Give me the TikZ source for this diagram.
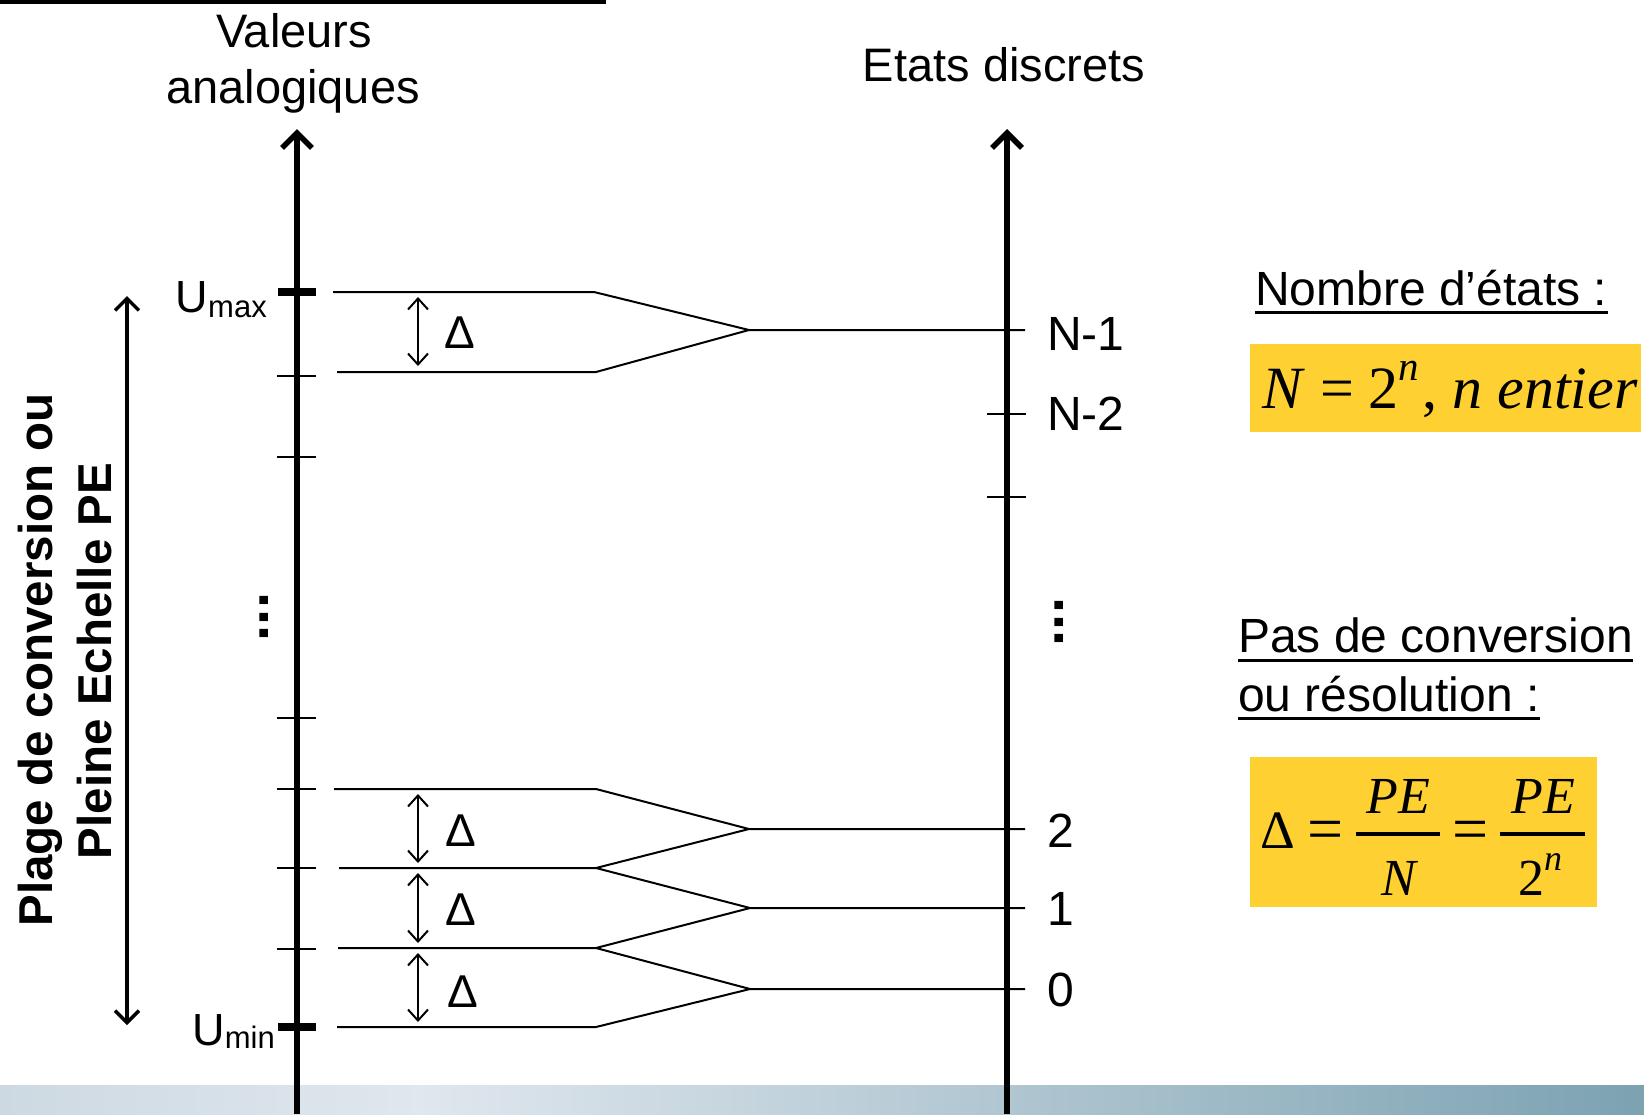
\documentclass[tikz,border=0pt]{standalone}
\usepackage{fontspec}
\setmainfont{Liberation Sans}
\newfontfamily\tms{Liberation Serif}
\usetikzlibrary{arrows.meta}
\definecolor{gold}{RGB}{255,208,50}
\definecolor{bandA}{RGB}{205,217,226}
\definecolor{bandB}{RGB}{224,231,238}
\definecolor{bandC}{RGB}{124,162,178}
\begin{document}
\begin{tikzpicture}[x=1pt,y=-1pt,
  txt/.style={inner sep=0pt, font=\fontsize{47}{56}\selectfont},
  rtxt/.style={inner sep=0pt, font=\fontsize{48}{56}\selectfont},
  fm/.style={inner sep=0pt, font=\tms\fontsize{52}{56}\selectfont},
  feq/.style={inner sep=0pt, font=\tms\fontsize{64}{66}\selectfont},
  axisline/.style={line width=5.5pt, -{Straight Barb[length=15pt,width=30pt]}},
  bigarr/.style={line width=3.5pt, {Straight Barb[length=12pt,width=24pt]}-{Straight Barb[length=12pt,width=24pt]}},
  darr/.style={line width=2pt, {Straight Barb[length=11pt,width=20pt]}-{Straight Barb[length=11pt,width=20pt]}},
  lvl/.style={line width=2pt, line join=round},
  thintick/.style={line width=2pt},
  thicktick/.style={line width=8pt},
  uline/.style={line width=3pt},
  dots/.style={inner sep=0pt, rotate=90, anchor=base, font=\bfseries\fontsize{58}{58}\selectfont}
]
\useasboundingbox (0,0) rectangle (1644,1114);
% top rule
\fill (0,0) rectangle (606,3.5);
% bottom band
\shade[left color=bandA,right color=bandB] (0,1085) rectangle (421,1114);
\shade[left color=bandB,right color=bandC] (420,1085) rectangle (1644,1114);

% axes
\coordinate (La0) at (297,1114); \coordinate (La1) at (297,129);
\coordinate (Ra0) at (1007,1114); \coordinate (Ra1) at (1007,129);
\draw[axisline] (La0) -- (La1);
\draw[axisline] (Ra0) -- (Ra1);

% headers
\node[txt,anchor=base] (val) at (294,47) {Valeurs};
\node[txt,anchor=base] (ana) at (293,103) {analogiques};
\node[txt,anchor=base] (etats) at (1004,81) {Etats discrets};

% left ticks
\foreach \yy in {376,457,718,789,868,949} \draw[thintick] (277,\yy) -- (316,\yy);
\draw[thicktick] (278,292) -- (316,292);
\draw[thicktick] (278,1027) -- (316,1027);
% right ticks
\draw[thintick] (987,414) -- (1026,414);
\draw[thintick] (987,497) -- (1026,497);

% Umax / Umin
\node[inner sep=0pt, anchor=base east, font=\fontsize{45}{50}\selectfont] (umax) at (267,312)
  {U\raisebox{-5pt}{\fontsize{31}{31}\selectfont max}};
\node[inner sep=0pt, anchor=base east, font=\fontsize{45}{50}\selectfont] (umin) at (275,1045)
  {U\raisebox{-3pt}{\fontsize{31}{31}\selectfont min}};

% level lines, upper group
\coordinate (ua) at (333,292); \coordinate (ub) at (594,292);
\coordinate (uc) at (337,372); \coordinate (ud) at (596,372);
\coordinate (ap1) at (749,330); \coordinate (e1) at (1025,330);
\draw[lvl] (ua) -- (ub) -- (ap1) -- (e1);
\draw[lvl] (uc) -- (ud) -- (ap1);

% lower group
\coordinate (l1a) at (334,789); \coordinate (l1b) at (596,789);
\coordinate (l2a) at (339,868); \coordinate (l2b) at (596,868);
\coordinate (l3a) at (338,948); \coordinate (l3b) at (596,948);
\coordinate (l4a) at (337,1027); \coordinate (l4b) at (596,1027);
\coordinate (ap2) at (749,829); \coordinate (e2) at (1025,829);
\coordinate (ap3) at (750,908); \coordinate (e3) at (1025,908);
\coordinate (ap4) at (750,989); \coordinate (e4) at (1025,989);
\draw[lvl] (l1a) -- (l1b) -- (ap2) -- (e2);
\draw[lvl] (l2a) -- (l2b) -- (ap2);
\draw[lvl] (l2b) -- (ap3) -- (e3);
\draw[lvl] (l3a) -- (l3b) -- (ap3);
\draw[lvl] (l3b) -- (ap4) -- (e4);
\draw[lvl] (l4a) -- (l4b) -- (ap4);

% delta arrows
\draw[darr] (418,297) -- (418,366);
\draw[darr] (418,794) -- (418,863);
\draw[darr] (418,873) -- (418,943);
\draw[darr] (418,953) -- (418,1022);
\node[txt,anchor=base,font=\fontsize{46}{50}\selectfont] (d1) at (460,348) {Δ};
\node[txt,anchor=base,font=\fontsize{46}{50}\selectfont] (d2) at (461,846) {Δ};
\node[txt,anchor=base,font=\fontsize{46}{50}\selectfont] (d3) at (461,925) {Δ};
\node[txt,anchor=base,font=\fontsize{46}{50}\selectfont] (d4) at (463,1007) {Δ};

% state labels
\node[rtxt,anchor=base west] (s1) at (1047,350) {N-1};
\node[rtxt,anchor=base west] (s2) at (1047,430) {N-2};
\node[rtxt,anchor=base west] (s3) at (1047,847) {2};
\node[rtxt,anchor=base west] (s4) at (1047,925) {1};
\node[rtxt,anchor=base west] (s5) at (1047,1006) {0};

% dots
\node[dots] (dl) at (268,617) {...};
\node[dots] (dr) at (1063,622) {...};

% big left arrow and rotated label
\coordinate (ba0) at (127,296); \coordinate (ba1) at (127,1025);
\draw[bigarr] (ba0) -- (ba1);
\node[inner sep=0pt, rotate=90, anchor=base, font=\bfseries\fontsize{47.5}{56}\selectfont] (pl1) at (52,660) {Plage de conversion ou};
\node[inner sep=0pt, rotate=90, anchor=base, font=\bfseries\fontsize{47.5}{56}\selectfont] (pl2) at (111.5,661) {Pleine Echelle PE};

% right column
\node[rtxt,anchor=base west] (nb) at (1255,305) {Nombre d’états :};
\draw[uline] ([yshift=-7pt]nb.base west) -- ([yshift=-7pt]nb.base east);
\fill[gold] (1250,344) rectangle (1641,432);
\node[inner sep=0pt, anchor=base west, font=\tms\fontsize{60}{62}\selectfont] (f1) at (1262,408)
  {\itshape N\upshape\hspace{18pt}=\hspace{14pt}2\raisebox{28pt}{\fontsize{41}{41}\selectfont\itshape n}\kern4pt, \itshape n entier};

\node[rtxt,anchor=base west] (pas1) at (1238,652) {Pas de conversion};
\draw[uline] ([yshift=-8pt]pas1.base west) -- ([yshift=-8pt]pas1.base east);
\node[rtxt,anchor=base west] (pas2) at (1238,711) {ou résolution :};
\draw[uline] ([yshift=-7pt]pas2.base west) -- ([yshift=-7pt]pas2.base east);

\fill[gold] (1250,757) rectangle (1597,907);
\node[fm,anchor=base,font=\tms\fontsize{54}{56}\selectfont] (fd) at (1278,848) {Δ};
\node[feq,anchor=base] (feq1) at (1326,850) {=};
\node[fm,anchor=base] (fpe1) at (1398,813) {\itshape PE};
\node[fm,anchor=base] (fn1) at (1399,895) {\itshape N};
\coordinate (b1l) at (1356,834); \coordinate (b1r) at (1440,834);
\draw[line width=3.5pt] (b1l) -- (b1r);
\node[feq,anchor=base] (feq2) at (1471,850) {=};
\node[fm,anchor=base] (fpe2) at (1543,813) {\itshape PE};
\node[fm,anchor=base] (f2n) at (1540,895) {2\raisebox{25pt}{\fontsize{36}{36}\selectfont\itshape n}};
\coordinate (b2l) at (1500,834); \coordinate (b2r) at (1585,834);
\draw[line width=3.5pt] (b2l) -- (b2r);
\end{tikzpicture}
\end{document}
